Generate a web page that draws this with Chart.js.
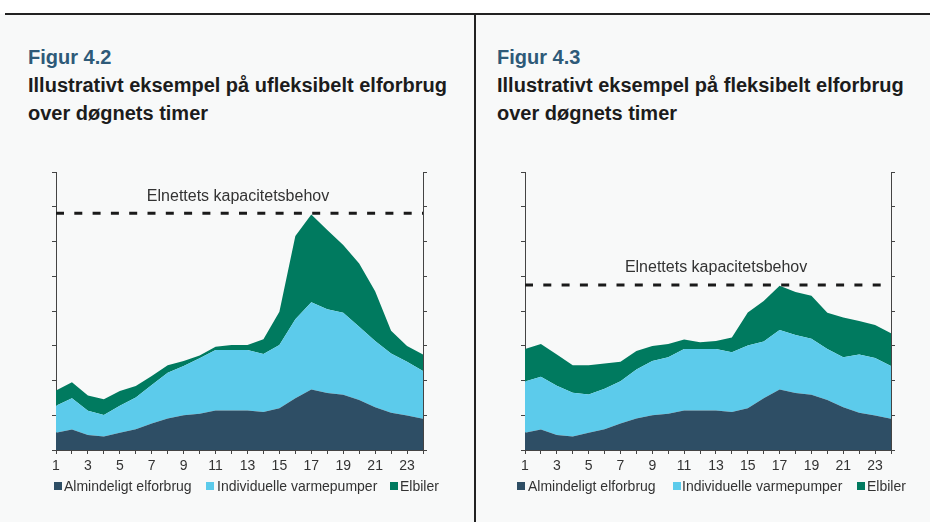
<!DOCTYPE html>
<html><head><meta charset="utf-8">
<script src="https://cdn.jsdelivr.net/npm/chart.js@4"></script>
<style>
html,body{margin:0;padding:0;}
body{width:930px;height:522px;position:relative;overflow:hidden;background:#fff;font-family:"Liberation Sans",Arial,sans-serif;}
#bg{position:absolute;left:0;top:14px;width:930px;height:508px;background:#f8f9f9;}
#hline{position:absolute;left:5px;top:13px;width:925px;height:1.5px;background:#222;}
#vline{position:absolute;left:474px;top:14px;width:1.5px;height:508px;background:#222;}
.fig{position:absolute;font-size:20px;font-weight:bold;color:#2e5a78;line-height:28px;white-space:nowrap;}
.ttl{position:absolute;font-size:20px;font-weight:bold;color:#1c1c1c;line-height:28px;white-space:nowrap;}
.wrap{position:absolute;top:160px;height:362px;}
.lg{position:absolute;font-size:14px;color:#333;line-height:18px;white-space:nowrap;}
.sw{position:absolute;width:8px;height:8px;}
</style>
</head><body>
<div id="bg"></div>
<div id="hline"></div>
<div id="vline"></div>
<div class="fig" style="left:28px;top:43px;">Figur 4.2</div>
<div class="ttl" style="left:28px;top:71px;">Illustrativt eksempel på ufleksibelt elforbrug<br>over døgnets timer</div>
<div class="fig" style="left:497px;top:43px;">Figur 4.3</div>
<div class="ttl" style="left:497px;top:71px;">Illustrativt eksempel på fleksibelt elforbrug<br>over døgnets timer</div>
<div class="wrap" style="left:0;width:474px;"><canvas id="c1" width="474" height="362"></canvas></div>
<div class="wrap" style="left:474px;width:456px;"><canvas id="c2" width="456" height="362"></canvas></div>
<div id="legends"></div>
<script>
// ---- data ----
const hours = ['1','2','3','4','5','6','7','8','9','10','11','12','13','14','15','16','17','18','19','20','21','22','23','24'];
const seriesNames = ['Almindeligt elforbrug','Individuelle varmepumper','Elbiler'];
const capacityLabel = 'Elnettets kapacitetsbehov';
const almindeligt = [0.50,0.59,0.43,0.39,0.50,0.60,0.76,0.91,1.00,1.04,1.14,1.14,1.14,1.09,1.20,1.49,1.74,1.64,1.59,1.44,1.23,1.07,0.99,0.90];
const varmepumperUfleks = [0.77,0.90,0.70,0.62,0.77,0.91,1.11,1.31,1.42,1.60,1.74,1.74,1.74,1.67,1.82,2.27,2.51,2.41,2.36,2.11,1.91,1.71,1.55,1.37];
const elbilerUfleks = [0.44,0.46,0.44,0.45,0.43,0.33,0.26,0.22,0.14,0.08,0.09,0.14,0.14,0.43,0.96,2.40,2.53,2.28,1.95,1.82,1.43,0.65,0.45,0.48];
const varmepumperFleks = [1.47,1.52,1.42,1.26,1.10,1.16,1.22,1.41,1.56,1.63,1.77,1.77,1.77,1.72,1.81,1.63,1.71,1.67,1.61,1.47,1.44,1.68,1.66,1.52];
const elbilerFleks = [0.94,0.94,0.90,0.79,0.84,0.73,0.56,0.53,0.43,0.38,0.27,0.19,0.23,0.43,0.95,1.17,1.28,1.24,1.24,1.04,1.14,0.96,0.95,0.94];
const kapacitetUfleks = 6.81;
const kapacitetFleks = 4.75;
const yMin = 0, yMax = 8, yStep = 1;

// ---- style ----
const colors = ['#2e4e65','#5ccbeb','#007a5f'];
const axisColor = '#444';
const font = "'Liberation Sans', Arial, sans-serif";

const capLabelPlugin = {
  id:'capLabel',
  afterDatasetsDraw(chart, args, opts){
    const {ctx, scales:{x,y}} = chart;
    const px = x.left + (x.right - x.left) * opts.fx;
    const py = y.getPixelForValue(opts.value) - 17;
    ctx.save();
    ctx.font = '16px ' + font;
    ctx.fillStyle = '#333';
    ctx.textAlign = 'center';
    ctx.textBaseline = 'middle';
    ctx.fillText(capacityLabel, px, py);
    ctx.restore();
  }
};

function makeChart(id, vp, el, cap, pad, fx){
  const datasets = [
    {label:seriesNames[0], data:almindeligt, backgroundColor:colors[0], fill:'origin', stack:'s'},
    {label:seriesNames[1], data:vp, backgroundColor:colors[1], fill:'-1', stack:'s'},
    {label:seriesNames[2], data:el, backgroundColor:colors[2], fill:'-1', stack:'s'},
    {label:capacityLabel, data:hours.map(()=>cap), borderColor:'#1a1a1a', borderDash:[8,10.3], fill:false, stack:'cap', order:-1}
  ].map(d=>Object.assign({pointRadius:0, pointHoverRadius:0, tension:0, borderWidth:0}, d, d.stack==='cap'?{borderWidth:3}:{}));
  const yAxis = (pos)=>({
    type:'linear', position:pos, min:yMin, max:yMax, stacked:true,
    ticks:{display:false, stepSize:yStep},
    grid:{drawOnChartArea:false, drawTicks:true, tickLength:4, color:axisColor, lineWidth:1},
    border:{display:true, color:axisColor, width:1},
    afterFit(s){ s.width = 0; }
  });
  return new Chart(document.getElementById(id), {
    type:'line',
    data:{labels:hours, datasets},
    options:{
      responsive:false, animation:false, events:[],
      layout:{padding:pad},
      plugins:{legend:{display:false}, tooltip:{enabled:false}, capLabel:{value:cap, fx:fx}},
      scales:{
        x:{type:'category', offset:false,
          ticks:{autoSkip:false, maxRotation:0, padding:4, color:'#333', font:{family:font, size:14},
            callback(v,i){ return i%2===0 ? hours[i] : ''; }},
          grid:{drawOnChartArea:false, drawTicks:true, tickLength:4, color:axisColor, lineWidth:1},
          border:{display:true, color:axisColor, width:1},
          afterFit(s){ s.height = 30; }
        },
        y: yAxis('left'),
        y2: yAxis('right')
      }
    },
    plugins:[capLabelPlugin]
  });
}

makeChart('c1', varmepumperUfleks, elbilerUfleks, kapacitetUfleks, {left:56, right:51, top:12, bottom:42}, 0.496);
makeChart('c2', varmepumperFleks, elbilerFleks, kapacitetFleks, {left:51, right:39, top:12, bottom:42}, 0.522);

// ---- legends ----
const legendPos = [[54,64,206,217,390,400],[517,528,673,682,857,867]];
const lg = document.getElementById('legends');
legendPos.forEach(p=>{
  for(let k=0;k<3;k++){
    const s=document.createElement('div'); s.className='sw';
    s.style.left=p[2*k]+'px'; s.style.top='482px'; s.style.background=colors[k];
    lg.appendChild(s);
    const t=document.createElement('div'); t.className='lg';
    t.style.left=p[2*k+1]+'px'; t.style.top='477px'; t.textContent=seriesNames[k];
    lg.appendChild(t);
  }
});
</script>
</body></html>
